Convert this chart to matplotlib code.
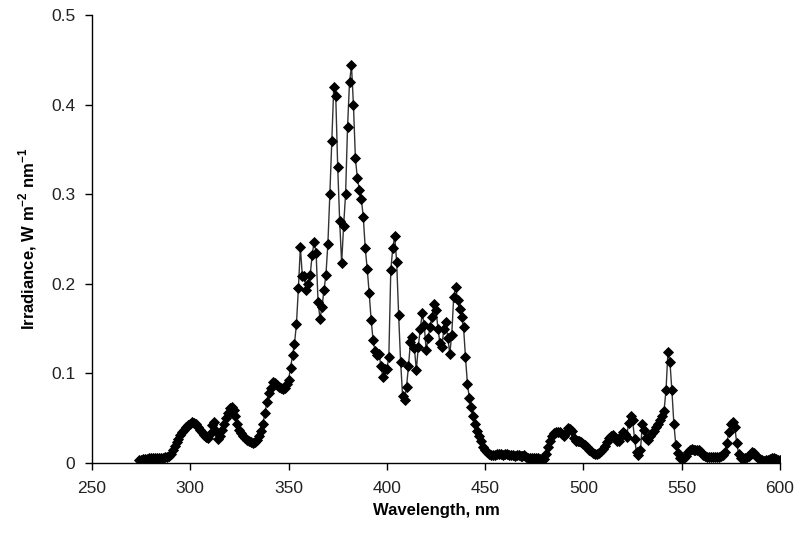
import numpy as np
import matplotlib
matplotlib.use("Agg")
import matplotlib.pyplot as plt

plt.rcParams['font.family'] = ['Liberation Sans', 'DejaVu Sans']
plt.rcParams['mathtext.fontset'] = 'custom'
plt.rcParams['mathtext.rm'] = 'Liberation Sans:bold'
plt.rcParams['mathtext.bf'] = 'Liberation Sans:bold'

# wavelength grid, 1 nm steps (nm)
wl_start = 274
wl_end = 600

# irradiance (W m-2 nm-1), one value per nm from 274 nm
irr_274_313 = [0.003, 0.003, 0.004, 0.004, 0.004, 0.005, 0.005, 0.005, 0.005, 0.006,
               0.006, 0.006, 0.006, 0.007, 0.007, 0.008, 0.010, 0.014, 0.019, 0.023,
               0.027, 0.031, 0.034, 0.037, 0.040, 0.042, 0.044, 0.046, 0.045, 0.043,
               0.040, 0.037, 0.034, 0.031, 0.029, 0.028, 0.032, 0.042, 0.046, 0.036]
irr_314_353 = [0.027, 0.030, 0.037, 0.044, 0.050, 0.056, 0.061, 0.063, 0.059, 0.052,
               0.043, 0.037, 0.033, 0.030, 0.028, 0.026, 0.025, 0.023, 0.022, 0.023,
               0.026, 0.030, 0.036, 0.044, 0.056, 0.068, 0.078, 0.084, 0.090, 0.089,
               0.087, 0.085, 0.084, 0.083, 0.084, 0.088, 0.093, 0.106, 0.120, 0.133]
irr_354_393 = [0.155, 0.195, 0.241, 0.209, 0.209, 0.193, 0.200, 0.210, 0.232, 0.247,
               0.235, 0.180, 0.161, 0.174, 0.193, 0.210, 0.245, 0.300, 0.360, 0.420,
               0.410, 0.330, 0.270, 0.223, 0.265, 0.300, 0.375, 0.425, 0.444, 0.400,
               0.340, 0.318, 0.305, 0.295, 0.275, 0.240, 0.217, 0.190, 0.160, 0.137]
irr_394_433 = [0.125, 0.120, 0.122, 0.108, 0.096, 0.105, 0.105, 0.118, 0.215, 0.240,
               0.253, 0.224, 0.165, 0.113, 0.075, 0.070, 0.085, 0.108, 0.135, 0.141,
               0.128, 0.104, 0.130, 0.150, 0.167, 0.154, 0.126, 0.139, 0.152, 0.163,
               0.178, 0.171, 0.150, 0.134, 0.130, 0.150, 0.157, 0.140, 0.122, 0.143]
irr_434_473 = [0.185, 0.197, 0.182, 0.172, 0.163, 0.152, 0.118, 0.088, 0.072, 0.062,
               0.052, 0.043, 0.036, 0.030, 0.024, 0.018, 0.015, 0.012, 0.010, 0.009,
               0.009, 0.009, 0.010, 0.010, 0.010, 0.009, 0.010, 0.010, 0.009, 0.009,
               0.009, 0.008, 0.009, 0.009, 0.008, 0.008, 0.009, 0.007, 0.006, 0.006]
irr_474_513 = [0.005, 0.005, 0.005, 0.005, 0.004, 0.003, 0.004, 0.010, 0.018, 0.025,
               0.030, 0.033, 0.034, 0.035, 0.034, 0.032, 0.030, 0.033, 0.039, 0.038,
               0.036, 0.028, 0.024, 0.024, 0.024, 0.023, 0.021, 0.020, 0.018, 0.015,
               0.013, 0.011, 0.010, 0.010, 0.011, 0.013, 0.016, 0.019, 0.023, 0.028]
irr_514_553 = [0.030, 0.031, 0.028, 0.025, 0.024, 0.030, 0.035, 0.032, 0.029, 0.045,
               0.052, 0.048, 0.027, 0.012, 0.009, 0.014, 0.044, 0.037, 0.028, 0.026,
               0.030, 0.033, 0.036, 0.040, 0.044, 0.048, 0.052, 0.058, 0.081, 0.124,
               0.113, 0.081, 0.044, 0.020, 0.011, 0.006, 0.005, 0.006, 0.008, 0.012]
irr_554_600 = [0.015, 0.016, 0.015, 0.014, 0.014, 0.014, 0.012, 0.009, 0.008, 0.007,
               0.007, 0.007, 0.007, 0.007, 0.007, 0.007, 0.008, 0.009, 0.012, 0.022,
               0.035, 0.044, 0.046, 0.040, 0.022, 0.010, 0.006, 0.005, 0.006, 0.007,
               0.008, 0.010, 0.012, 0.011, 0.008, 0.005, 0.004, 0.003, 0.002, 0.003,
               0.003, 0.004, 0.005, 0.005, 0.004, 0.003, 0.003]

irradiance = np.array(irr_274_313 + irr_314_353 + irr_354_393 + irr_394_433 +
                      irr_434_473 + irr_474_513 + irr_514_553 + irr_554_600)
wavelength = np.arange(wl_start, wl_end + 1)

x_ticks = [250, 300, 350, 400, 450, 500, 550, 600]
y_ticks = [0, 0.1, 0.2, 0.3, 0.4, 0.5]
y_tick_labels = ['0', '0.1', '0.2', '0.3', '0.4', '0.5']

fig = plt.figure(figsize=(8, 5.44), dpi=100)
ax = fig.add_axes([0.115, 0.149, 0.86, 0.823])

ax.plot(wavelength, irradiance, color='#333333', lw=1.0,
        marker='D', ms=5.0, mfc='black', mec='black', mew=0.6)

ax.set_xlim(250, 600)
ax.set_ylim(0, 0.5)
ax.set_xticks(x_ticks)
ax.set_yticks(y_ticks)
ax.set_yticklabels(y_tick_labels)

for s in ['top', 'right']:
    ax.spines[s].set_visible(False)
for s in ['left', 'bottom']:
    ax.spines[s].set_linewidth(1.0)
    ax.spines[s].set_color('black')

ax.tick_params(axis='both', direction='out', length=5, width=1,
               labelsize=12.5, labelcolor='#222222', pad=7)
ax.tick_params(axis='x', pad=8)

ax.set_xlabel('Wavelength, nm', fontsize=12, fontweight='bold', labelpad=5)
ax.set_ylabel(r'Irradiance, W m$^{-2}$ nm$^{-1}$', fontsize=12,
              fontweight='bold', labelpad=9)

fig.savefig('out.png', dpi=100)
